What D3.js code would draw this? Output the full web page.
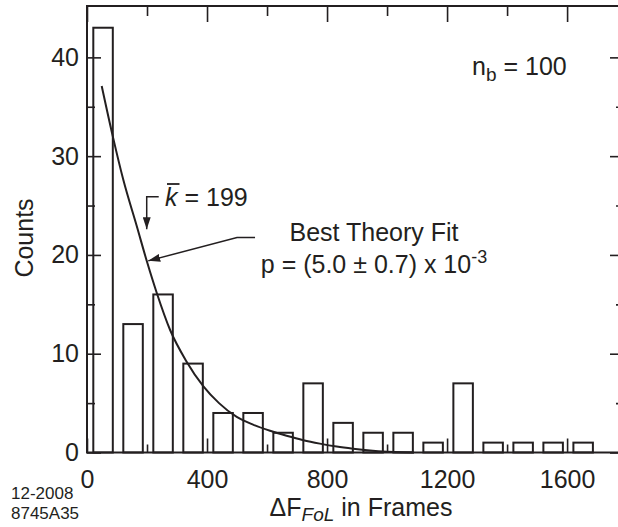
<!DOCTYPE html>
<html><head><meta charset="utf-8">
<script src="https://cdn.jsdelivr.net/npm/d3@7/dist/d3.min.js"></script>
<style>html,body{margin:0;padding:0;background:#fff}</style>
</head><body>
<svg id="c" width="618" height="527"></svg>
<script>
// ---- data ----
const binStarts = [0,100,200,300,400,500,600,700,800,900,1000,1100,1200,1300,1400,1500,1600];
const counts    = [43,13,16,9,4,4,2,7,3,2,2,1,7,1,1,1,1];
const fitX = [49,86,121,166,201,232,277,330,388,440,499,555,610,665,721,776,832,887,943,1000,1054,1090];
const fitY = [37.1,32.0,27.6,22.9,19.2,16.2,12.4,9.3,6.7,5.0,3.6,2.8,2.2,1.7,1.25,0.9,0.6,0.38,0.2,0.08,0.02,0];
const xTicks = [0,400,800,1200,1600];
const xTickLabels = ["0","400","800","1200","1600"];
const xMinor = [200,600,1000,1400];
const yTicks = [0,10,20,30,40];
const yMinor = [5,15,25,35];
const kbar = 199;

const INK = "#231f20";
const FONT = "'Liberation Sans', Arial, Helvetica, sans-serif";
const svg = d3.select("#c");
const L = 87, R = 619, T = 6, B = 452.5;
const x = d3.scaleLinear().domain([0, 1773]).range([L, R]);
const y = d3.scaleLinear().domain([0, 45.2]).range([B, T]);

// markers
const defs = svg.append("defs");
defs.append("marker").attr("id","ah").attr("viewBox","0 0 12 8")
  .attr("refX",12).attr("refY",4).attr("markerWidth",12).attr("markerHeight",8)
  .attr("markerUnits","userSpaceOnUse").attr("orient","auto")
  .append("path").attr("d","M0,0 L12,4 L0,8 Z").attr("fill",INK);

// bars
svg.append("g").selectAll("rect").data(binStarts).join("rect")
  .attr("x", d => x(d + 21))
  .attr("width", d => x(d + 86) - x(d + 21))
  .attr("y", (d,i) => y(counts[i]))
  .attr("height", (d,i) => y(0) - y(counts[i]))
  .attr("fill","#fff").attr("stroke",INK).attr("stroke-width",2);

// fit curve
const line = d3.line().x(d => x(d[0])).y(d => y(d[1])).curve(d3.curveMonotoneX);
svg.append("path").datum(fitX.map((v,i)=>[v,fitY[i]]))
  .attr("d", line).attr("fill","none").attr("stroke",INK).attr("stroke-width",2);

// axes
function styleAxis(g){
  g.select(".domain").remove();
  g.selectAll("line").attr("stroke",INK).attr("stroke-width",1.6);
  g.selectAll("text").attr("fill",INK).attr("font-family",FONT).attr("font-size",25);
}
svg.append("g").attr("transform",`translate(${L},0)`)
  .call(d3.axisLeft(y).tickValues(yTicks).tickSizeInner(-14).tickSizeOuter(0).tickPadding(8))
  .call(styleAxis);
svg.append("g").attr("transform",`translate(${L},0)`)
  .call(d3.axisLeft(y).tickValues(yMinor).tickSizeInner(-8).tickSizeOuter(0).tickFormat(""))
  .call(styleAxis);
svg.append("g").attr("transform",`translate(${R},0)`)
  .call(d3.axisRight(y).tickValues(yTicks).tickSizeInner(-9).tickSizeOuter(0).tickFormat(""))
  .call(styleAxis);
svg.append("g").attr("transform",`translate(${R},0)`)
  .call(d3.axisRight(y).tickValues(yMinor).tickSizeInner(-3).tickSizeOuter(0).tickFormat(""))
  .call(styleAxis);
svg.append("g").attr("transform",`translate(0,${B})`)
  .call(d3.axisBottom(x).tickValues(xTicks).tickSizeInner(-14).tickSizeOuter(0).tickPadding(12)
    .tickFormat((d,i) => xTickLabels[i]))
  .call(styleAxis)
  .call(g => g.selectAll("text").attr("dy","0.95em"));
svg.append("g").attr("transform",`translate(0,${B})`)
  .call(d3.axisBottom(x).tickValues(xMinor).tickSizeInner(-8).tickSizeOuter(0).tickFormat(""))
  .call(styleAxis);
svg.append("g").attr("transform",`translate(0,${T})`)
  .call(d3.axisTop(x).tickValues(xTicks).tickSizeInner(-16).tickSizeOuter(0).tickFormat(""))
  .call(styleAxis);
svg.append("g").attr("transform",`translate(0,${T})`)
  .call(d3.axisTop(x).tickValues(xMinor).tickSizeInner(-10).tickSizeOuter(0).tickFormat(""))
  .call(styleAxis);

// frame
svg.append("rect").attr("x",L).attr("y",T).attr("width",R-L).attr("height",B-T)
  .attr("fill","none").attr("stroke",INK).attr("stroke-width",2);

// text helper
function txt(xp, yp, s, size, anchor){
  return svg.append("text").attr("x",xp).attr("y",yp).attr("fill",INK)
    .attr("font-family",FONT).attr("font-size",size).attr("text-anchor",anchor||"start").text(s);
}

// axis titles
txt(0,0,"Counts",25,"middle").attr("transform","translate(33,238) rotate(-90)");
const xl = svg.append("text").attr("x",361).attr("y",516).attr("fill",INK)
  .attr("font-family",FONT).attr("font-size",25).attr("text-anchor","middle");
xl.append("tspan").text("\u0394F");
xl.append("tspan").attr("dy",5).attr("font-size",19).attr("font-style","italic").text("FoL");
xl.append("tspan").attr("dy",-5).text(" in Frames");

// n_b
const nb = svg.append("text").attr("x",472).attr("y",75).attr("fill",INK)
  .attr("font-family",FONT).attr("font-size",25);
nb.append("tspan").text("n");
nb.append("tspan").attr("dy",6).attr("font-size",19).text("b");
nb.append("tspan").attr("dy",-6).text(" = 100");

// k bar annotation
const kx = x(kbar);
svg.append("path")
  .attr("d", `M${kx+12},${y(25.9)} H${kx} V${y(22.6)}`)
  .attr("fill","none").attr("stroke",INK).attr("stroke-width",1.5).attr("marker-end","url(#ah)");
const kt = svg.append("text").attr("x",165).attr("y",206).attr("fill",INK)
  .attr("font-family",FONT).attr("font-size",25);
kt.append("tspan").attr("font-style","italic").text("k");
kt.append("tspan").text(" = 199");
const kw = kt.node().getSubStringLength(0,1);
svg.append("line").attr("x1",167).attr("x2",167+kw).attr("y1",184).attr("y2",184)
  .attr("stroke",INK).attr("stroke-width",1.8);

// best fit annotation
svg.append("path")
  .attr("d", `M${x(560)},${y(21.76)} H${x(500)} L${x(204)},${y(19.4)}`)
  .attr("fill","none").attr("stroke",INK).attr("stroke-width",1.5).attr("marker-end","url(#ah)");
txt(374,241,"Best Theory Fit",25,"middle");
const pt = svg.append("text").attr("x",374).attr("y",273).attr("fill",INK)
  .attr("font-family",FONT).attr("font-size",25).attr("text-anchor","middle");
pt.append("tspan").text("p = (5.0 \u00b1 0.7) x 10");
pt.append("tspan").attr("dy",-10).attr("font-size",18).text("-3");

// id stamp
txt(11,499,"12-2008",17);
txt(11,519,"8745A35",17);
</script>
</body></html>
